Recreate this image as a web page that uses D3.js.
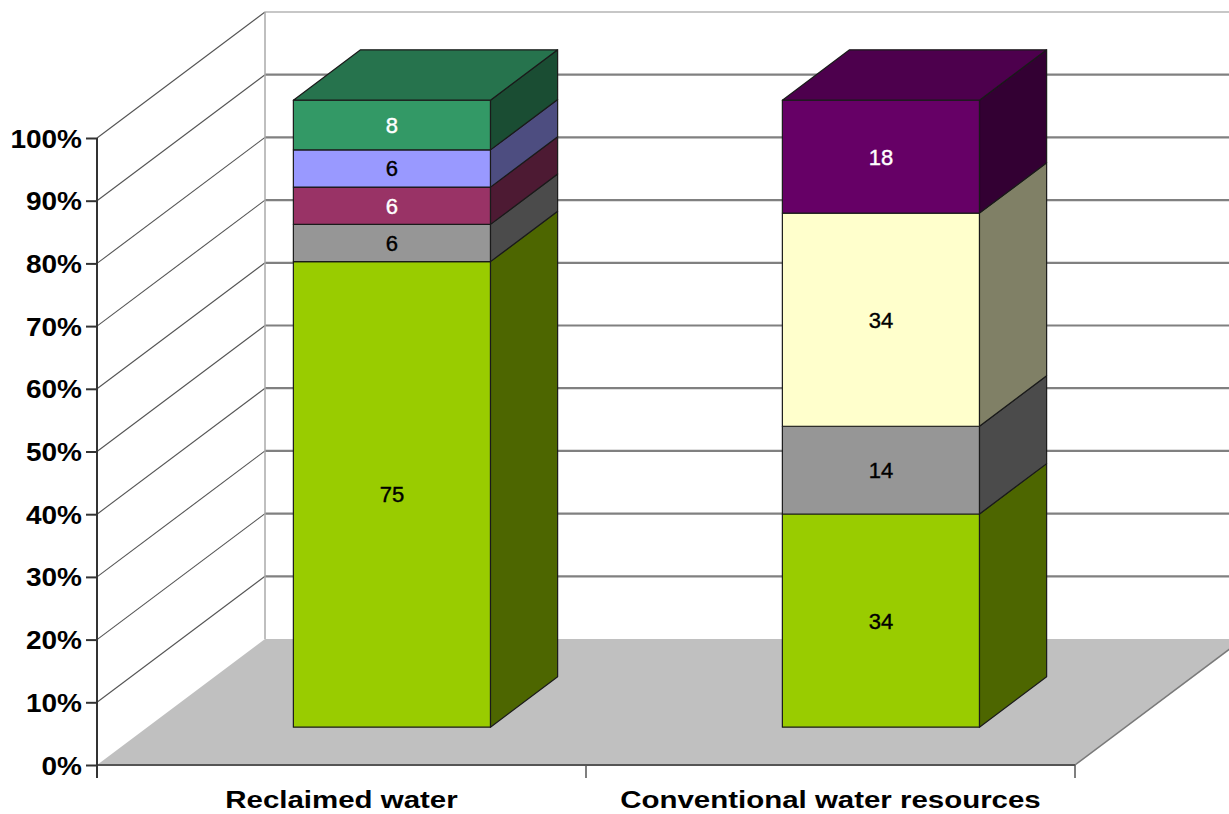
<!DOCTYPE html>
<html>
<head>
<meta charset="utf-8">
<script src="https://cdn.jsdelivr.net/npm/d3@7/dist/d3.min.js"></script>
<style>
  html, body { margin: 0; padding: 0; background: #fff; }
  svg { display: block; font-family: "Liberation Sans", Arial, sans-serif; }
</style>
</head>
<body>
<svg id="chart" width="1229" height="814"></svg>
<script>
// Categories and stacked series values (shares in %)
const categories = ["Reclaimed water", "Conventional water resources"];
const seriesKeys = ["s1", "s2", "s3", "s4", "s5", "s6", "s7"];
const series1 = [75, 34];
const series2 = [6, 14];
const series3 = [6, 0];
const series4 = [6, 0];
const series5 = [0, 34];
const series6 = [8, 0];
const series7 = [0, 18];
const seriesColors = ["#99cc00", "#969696", "#993366", "#9999ff", "#ffffcc", "#339966", "#660066"];
const labelColors = ["#000", "#000", "#fff", "#000", "#000", "#fff", "#fff"];
const yTicks = [0, 0.1, 0.2, 0.3, 0.4, 0.5, 0.6, 0.7, 0.8, 0.9, 1.0];

const allSeries = [series1, series2, series3, series4, series5, series6, series7];
const rows = categories.map((c, i) => {
  const r = { category: c };
  seriesKeys.forEach((k, j) => { r[k] = allSeries[j][i]; });
  return r;
});

const svg = d3.select("#chart");

// 3D frame: front plane at depth 0, back wall at depth 1
const depthX = 168, depthY = 126;
const x = d3.scaleBand().domain(categories).range([97, 1075]).padding(0);
const y = d3.scaleLinear().domain([0, 1]).range([765, 138]);
const P = (px, v, z) => [px + z * depthX, y(v) - z * depthY];
const poly = pts => "M" + pts.map(p => p.join(",")).join("L") + "Z";

const x0 = x.range()[0], x1 = x.range()[1];

// Walls
svg.append("path")
  .attr("d", poly([P(x0, 0, 0), P(x0, 0, 1), P(x0, 1, 1), P(x0, 1, 0)]))
  .attr("fill", "#fff");
svg.append("path")
  .attr("d", poly([P(x0, 0, 1), P(x1, 0, 1), P(x1, 1, 1), P(x0, 1, 1)]))
  .attr("fill", "#fff");

// Floor
svg.append("path")
  .attr("d", poly([P(x0, 0, 0), P(x1, 0, 0), P(x1, 0, 1), P(x0, 0, 1)]))
  .attr("fill", "#c0c0c0");
svg.append("line")
  .attr("x1", P(x1, 0, 0)[0]).attr("y1", P(x1, 0, 0)[1])
  .attr("x2", P(x1, 0, 1)[0]).attr("y2", P(x1, 0, 1)[1])
  .attr("stroke", "#7a7a7a").attr("stroke-width", 1.5);

// Gridlines on the back wall and the left side wall
yTicks.forEach(t => {
  const top = t === 1;
  if (t > 0) {
    svg.append("line")
      .attr("x1", P(x0, t, 1)[0]).attr("y1", P(x0, t, 1)[1])
      .attr("x2", P(x1, t, 1)[0]).attr("y2", P(x1, t, 1)[1])
      .attr("stroke", top ? "#b4b4b4" : "#808080")
      .attr("stroke-width", top ? 1.5 : 2.2);
    svg.append("line")
      .attr("x1", P(x0, t, 0)[0]).attr("y1", P(x0, t, 0)[1])
      .attr("x2", P(x0, t, 1)[0]).attr("y2", P(x0, t, 1)[1])
      .attr("stroke", "#555").attr("stroke-width", 1.1);
  }
});
// back-left corner edge
svg.append("line")
  .attr("x1", P(x0, 0, 1)[0]).attr("y1", P(x0, 0, 1)[1])
  .attr("x2", P(x0, 1, 1)[0]).attr("y2", P(x0, 1, 1)[1])
  .attr("stroke", "#aaa").attr("stroke-width", 1.5);

// Front floor edge and category ticks
svg.append("line")
  .attr("x1", x0).attr("y1", y(0)).attr("x2", x1).attr("y2", y(0))
  .attr("stroke", "#555").attr("stroke-width", 2);
const catTicks = [x0].concat(categories.map(c => x(c) + x.bandwidth()));
svg.selectAll(".ctick").data(catTicks).join("line")
  .attr("x1", d => d).attr("x2", d => d)
  .attr("y1", y(0)).attr("y2", y(0) + 13)
  .attr("stroke", "#555").attr("stroke-width", 1.5);

// Y axis
const yAxis = d3.axisLeft(y).tickValues(yTicks).tickFormat(d3.format(".0%")).tickSize(11).tickPadding(4);
const gy = svg.append("g").attr("transform", `translate(${x0},0)`).call(yAxis);
gy.select(".domain").remove();
gy.append("line").attr("x1", 0).attr("x2", 0).attr("y1", y(1)).attr("y2", y(0) + 13)
  .attr("stroke", "#333").attr("stroke-width", 2);
gy.selectAll(".tick line").attr("stroke", "#333").attr("stroke-width", 2);
gy.selectAll(".tick text")
  .attr("fill", "#000")
  .style("font-family", '"Liberation Sans", Arial, sans-serif')
  .style("font-size", "25px").style("font-weight", "bold")
  .attr("dy", "0.36em")
  .each(function () {
    const L = this.getComputedTextLength();
    d3.select(this).attr("textLength", L * 1.12).attr("lengthAdjust", "spacingAndGlyphs");
  });

// Category labels
svg.selectAll(".clabel").data(categories).join("text")
  .attr("x", d => x(d) + x.bandwidth() / 2)
  .attr("y", 808)
  .attr("text-anchor", "middle")
  .style("font-size", "23px").style("font-weight", "bold")
  .text(d => d)
  .each(function () {
    const L = this.getComputedTextLength();
    d3.select(this).attr("textLength", L * 1.28).attr("lengthAdjust", "spacingAndGlyphs");
  });

// Stacked 3D bars
const stacked = d3.stack().keys(seriesKeys).offset(d3.stackOffsetExpand)(rows);
const barFrac = 0.403, zf = 0.3, zb = 0.7;
const gBars = svg.append("g");

categories.forEach((cat, ci) => {
  const cx = x(cat) + x.bandwidth() / 2;
  const bw = x.bandwidth() * barFrac;
  const L = cx - bw / 2, R = cx + bw / 2;
  const segs = stacked.map((s, si) => ({ si, v0: s[ci][0], v1: s[ci][1], val: s[ci].data[seriesKeys[si]] }))
    .filter(d => d.val > 0);
  segs.forEach((d, k) => {
    const col = d3.rgb(seriesColors[d.si]);
    const side = d3.rgb(col.r * 0.5, col.g * 0.5, col.b * 0.5);
    const topc = d3.rgb(col.r * 0.75, col.g * 0.75, col.b * 0.75);
    // side face
    gBars.append("path")
      .attr("d", poly([P(R, d.v0, zf), P(R, d.v0, zb), P(R, d.v1, zb), P(R, d.v1, zf)]))
      .attr("fill", side).attr("stroke", "#1a1a1a").attr("stroke-width", 1.2).attr("stroke-linejoin", "round");
    // front face
    gBars.append("path")
      .attr("d", poly([P(L, d.v0, zf), P(R, d.v0, zf), P(R, d.v1, zf), P(L, d.v1, zf)]))
      .attr("fill", col).attr("stroke", "#1a1a1a").attr("stroke-width", 1.2).attr("stroke-linejoin", "round");
    // top face on the uppermost segment
    if (k === segs.length - 1) {
      gBars.append("path")
        .attr("d", poly([P(L, d.v1, zf), P(R, d.v1, zf), P(R, d.v1, zb), P(L, d.v1, zb)]))
        .attr("fill", topc).attr("stroke", "#1a1a1a").attr("stroke-width", 1.2).attr("stroke-linejoin", "round");
    }
    // value label
    const mid = P(cx, (d.v0 + d.v1) / 2, zf);
    gBars.append("text")
      .attr("x", mid[0]).attr("y", mid[1])
      .attr("dy", "0.36em")
      .attr("text-anchor", "middle")
      .attr("fill", labelColors[d.si])
      .attr("stroke", labelColors[d.si]).attr("stroke-width", 0.4)
      .style("font-size", "22px")
      .text(d.val);
  });
});
</script>
</body>
</html>
